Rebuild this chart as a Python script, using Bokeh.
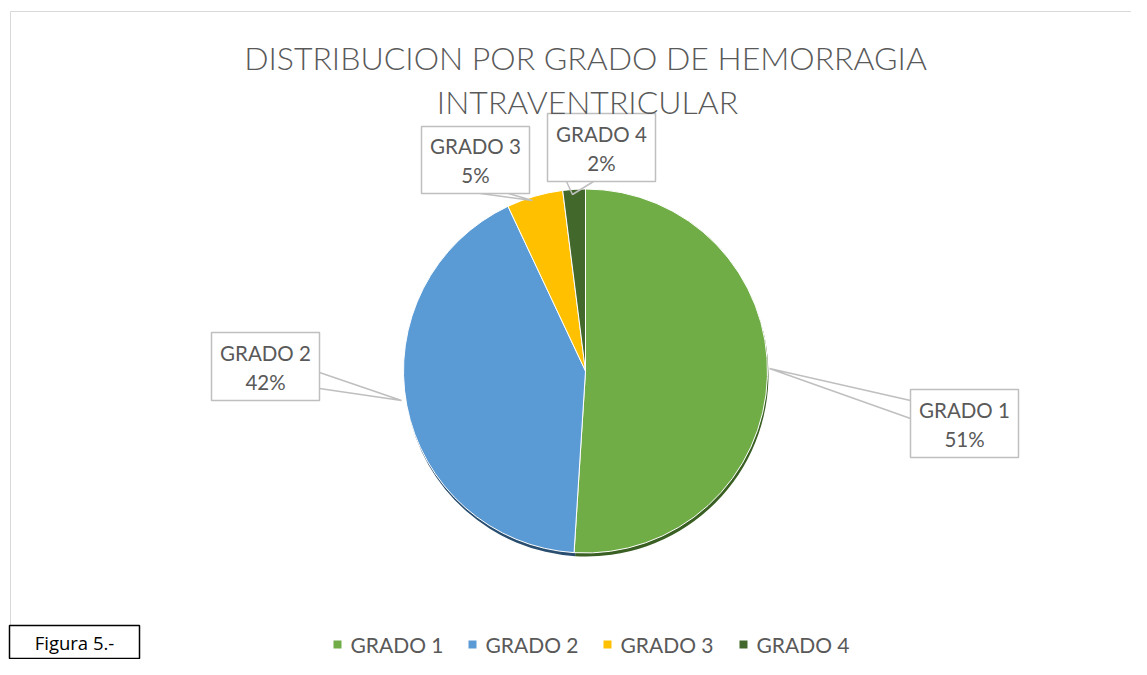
import numpy as np
from bokeh.plotting import figure
from bokeh.models import Range1d, ColumnDataSource
from bokeh.core.properties import value
from bokeh.embed import file_html
from bokeh.resources import INLINE

# ---- data ----
categories = ["GRADO 1", "GRADO 2", "GRADO 3", "GRADO 4"]
percentages = [51, 42, 5, 2]
colors = ["#70AD47", "#5B9BD5", "#FFC000", "#43682B"]
shadow_colors = ["#3a5f23", "#2a4e70", "#8a6800", "#22391a"]
title_lines = ["DISTRIBUCION POR GRADO DE HEMORRAGIA", "INTRAVENTRICULAR"]
caption = "Figura 5.-"

# ---- layout (screen pixel coords of the picture) ----
W, H = 1131, 659
def X(sx):
    return sx
def Y(sy):
    return H - sy

FONT = value("Lato")
TXT = "#595959"
GRAY = "#BFBFBF"

p = figure(width=W, height=H, x_range=Range1d(0, W), y_range=Range1d(0, H),
           output_backend="svg", toolbar_location=None,
           x_axis_type=None, y_axis_type=None, min_border=0,
           outline_line_color=None, background_fill_color="white")
p.grid.visible = False

# chart area border
p.line(x=[X(10), X(10), X(1160)], y=[Y(700), Y(11), Y(11)], line_color="#D9D9D9", line_width=1)

# ---- pie ----
vals = np.array(percentages, dtype=float)
frac = vals / vals.sum()
cum = np.concatenate([[0.0], np.cumsum(frac)])
start = np.pi / 2 - cum[:-1] * 2 * np.pi
end = np.pi / 2 - cum[1:] * 2 * np.pi
src = ColumnDataSource(dict(cat=categories, start=start, end=end,
                            color=colors, shadow=shadow_colors))
cx, cy, r = X(585), Y(370.5), 182
p.wedge(x=cx + 1, y=cy - 3.5, radius=r, start_angle="start", end_angle="end",
        direction="clock", fill_color="shadow", line_color=None, source=src)
p.wedge(x=cx, y=cy, radius=r, start_angle="start", end_angle="end",
        direction="clock", fill_color="color", line_color="white", line_width=1,
        source=src)

# ---- data labels (callout boxes) ----
boxes = [(910, 389, 1018, 457), (211, 332, 319, 400), (421, 126, 529, 193), (547, 113, 655, 181)]
leaders = [
    [(910, 400), (769, 368), (910, 418)],
    [(319, 372), (401, 400), (319, 388)],
    [(480, 193), (532, 200), (508, 193)],
    [(566, 181), (572, 194), (593, 181)],
]
for i, cat in enumerate(categories):
    x0, y0, x1, y1 = boxes[i]
    lx = [X(a) for a, b in leaders[i]]
    ly = [Y(b) for a, b in leaders[i]]
    p.line(x=lx, y=ly, line_color=GRAY, line_width=1.5)
    p.quad(left=X(x0), right=X(x1), top=Y(y0), bottom=Y(y1), fill_color="white",
           line_color=GRAY, line_width=1.5)
    xc = X((x0 + x1) / 2)
    yc = (y0 + y1) / 2
    p.text(x=[xc], y=[Y(yc - 14)], text=[cat], text_font=FONT, text_font_size="20.5px",
           text_color=TXT, text_align="center", text_baseline="middle")
    p.text(x=[xc], y=[Y(yc + 15)], text=[f"{percentages[i]}%"], text_font=FONT,
           text_font_size="20.5px", text_color=TXT, text_align="center", text_baseline="middle")

# ---- title ----
p.text(x=[X(585)], y=[Y(57)], text=[title_lines[0]], text_font=value("Lato Light"),
       text_font_size="32px", text_color=TXT, text_align="center", text_baseline="middle")
p.text(x=[X(587)], y=[Y(101)], text=[title_lines[1]], text_font=value("Lato Light"),
       text_font_size="32px", text_color=TXT, text_align="center", text_baseline="middle")

# ---- legend ----
leg_sq_x = [337, 472, 607, 743]
for i, cat in enumerate(categories):
    p.scatter(x=[X(leg_sq_x[i])], y=[Y(644)], marker="square", size=8,
              fill_color=colors[i], line_color=None)
    p.text(x=[X(leg_sq_x[i] + 13)], y=[Y(644)], text=[cat], text_font=FONT,
           text_font_size="21px", text_color=TXT, text_align="left", text_baseline="middle")

# ---- caption box ----
p.quad(left=X(9), right=X(139), top=Y(625), bottom=Y(658), fill_color="white",
       line_color="black", line_width=1.5)
p.text(x=[X(74)], y=[Y(642)], text=[caption], text_font=value("Open Sans"),
       text_font_size="18.5px", text_color="black", text_align="center", text_baseline="middle")

open("out.html", "w").write(file_html(p, INLINE))
